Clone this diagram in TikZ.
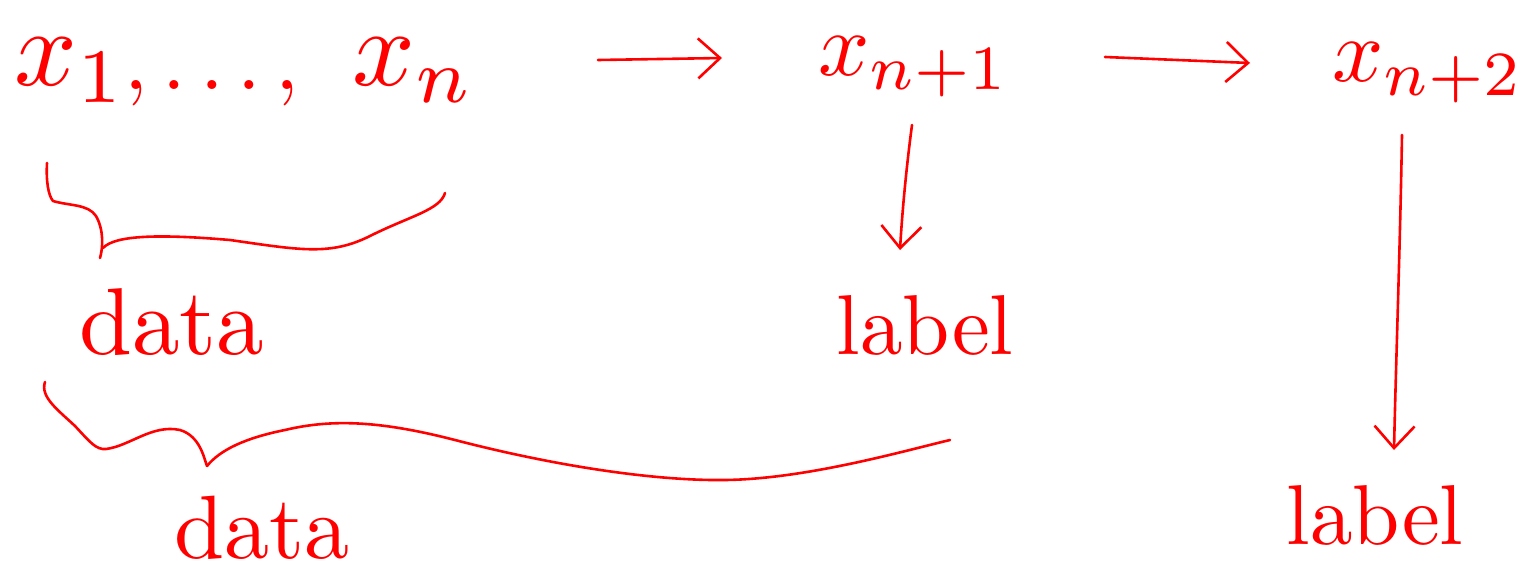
\documentclass[tikz,border=0pt]{standalone}
\usepackage{graphicx}
\usetikzlibrary{arrows.meta}
\newcommand\bigtxt[1]{\scalebox{11}{#1}}
\newcommand\dotstxt[1]{\scalebox{8.5}{#1}}
\newcommand\midtxt[1]{\scalebox{9.5}{#1}}
\newcommand\subtxt[1]{\scalebox{9}{#1}}
\newcommand\lbltxt[1]{\scalebox{8.5}{#1}}
\tikzset{
  hand/.style={red, line width=2.6pt, line cap=round, line join=round},
  harrow/.style={hand, -{Straight Barb[length=22pt,width=40pt,line width=2.6pt]}},
  txt/.style={red, inner sep=0pt},
}
\begin{document}
\begin{tikzpicture}[x=1pt,y=-1pt]
\useasboundingbox (0,0) rectangle (1524,575);
% top row
\node[txt, anchor=base west] (x1) at (14,86) {\bigtxt{$x_1$}};
\node[txt, anchor=base] (dots) at (212,90) {\dotstxt{$,\ldots,$}};
\node[txt, anchor=base west] (xn) at (352,86) {\bigtxt{$x_n$}};
\node[txt, anchor=base west] (xn1) at (818,76) {\subtxt{$x_{n+1}$}};
\node[txt, anchor=base west] (xn2) at (1332,82) {\subtxt{$x_{n+2}$}};
% horizontal arrows
\coordinate (a1s) at (598,60);
\coordinate (a1e) at (722,58);
\coordinate (a2s) at (1105,57);
\coordinate (a2e) at (1250,63);
\draw[harrow] (a1s) -- (a1e);
\draw[harrow] (a2s) -- (a2e);
% labels
\node[txt] (lab1) at (925,325) {\lbltxt{label}};
\node[txt] (lab2) at (1375,515) {\lbltxt{label}};
\node[txt] (data1) at (172,322) {\midtxt{data}};
\node[txt] (data2) at (262,528) {\scalebox{9}{data}};
% vertical arrows
\coordinate (v1s) at (912,125);
\coordinate (v1e) at (900,250);
\coordinate (v2s) at (1402,135);
\coordinate (v2e) at (1394,450);
\draw[harrow] (v1s) .. controls (906,170) and (902,215) .. (v1e);
\draw[harrow] (v2s) .. controls (1400,250) and (1396,360) .. (v2e);
% brace 1
\draw[hand] (47,163) .. controls (46,180) and (48,195) .. (53,201)
  .. controls (70,206) and (88,204) .. (96,216)
  .. controls (104,230) and (103,248) .. (100,258);
\draw[hand] (103,248) .. controls (115,235) and (160,234) .. (230,240)
  .. controls (300,250) and (330,256) .. (370,236) .. controls (410,216) and (440,210) .. (445,193);
% brace 2
\draw[hand] (45,382) .. controls (40,397) and (58,410) .. (75,426)
  .. controls (90,442) and (96,450) .. (106,449)
  .. controls (130,446) and (152,424) .. (180,430)
  .. controls (200,436) and (204,458) .. (207,466);
\draw[hand] (207,466) .. controls (220,450) and (245,438) .. (285,430)
  .. controls (335,418) and (385,422) .. (455,440)
  .. controls (555,466) and (655,481) .. (725,480)
  .. controls (805,479) and (900,452) .. (950,440);
\end{tikzpicture}
\end{document}
